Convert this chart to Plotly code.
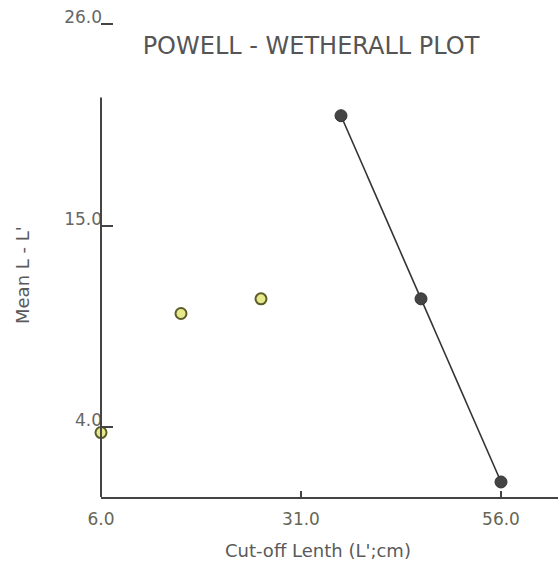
import plotly.graph_objects as go

# Data
cutoff_len = [6, 16, 26, 36, 46, 56]
mean_diff = [3.7, 10.2, 11.0, 21.0, 11.0, 1.0]
# points used in regression (dark) vs. excluded (yellow)
excl_x = cutoff_len[:3]
excl_y = mean_diff[:3]
incl_x = cutoff_len[3:]
incl_y = mean_diff[3:]

x_ticks = [6, 31, 56]
x_ticklabels = ["6.0", "31.0", "56.0"]
y_ticks = [4, 15, 26]
y_ticklabels = ["4.0", "15.0", "26.0"]

FONT = "DejaVu Sans, Arial, sans-serif"
GRAY = "#5a5a5a"

fig = go.Figure()

fig.add_trace(go.Scatter(
    x=incl_x, y=incl_y, mode="lines+markers",
    line=dict(color="#333333", width=1.6),
    marker=dict(size=12, color="#444444", line=dict(color="#333333", width=1)),
    cliponaxis=False, showlegend=False,
))
fig.add_trace(go.Scatter(
    x=excl_x, y=excl_y, mode="markers",
    marker=dict(size=11, color="#e6e88a", line=dict(color="#5c5c2a", width=2)),
    cliponaxis=False, showlegend=False,
))

# y-axis line (shorter than the full axis range)
fig.add_shape(type="line", xref="paper", yref="y", x0=0, x1=0, y0=0.18, y1=22,
              line=dict(color="#444444", width=2))

fig.update_layout(
    width=558, height=567,
    margin=dict(l=101, r=0, t=15, b=70),
    paper_bgcolor="white", plot_bgcolor="white",
    font=dict(family=FONT, color=GRAY, size=17),
    title=dict(text="POWELL - WETHERALL PLOT", x=311/558, xref="container", xanchor="center",
               y=1-45.5/567, yref="container", yanchor="middle",
               font=dict(size=24, color="#555555", family=FONT)),
    xaxis=dict(range=[6, 63.125], showgrid=False, zeroline=False,
               showline=True, linecolor="#444444", linewidth=2,
               tickmode="array", tickvals=x_ticks, ticktext=x_ticklabels,
               ticks="inside", ticklen=6, tickcolor="#444444", tickwidth=1.5,
               ticklabelstandoff=6, tickfont=dict(size=17, color="#666655")),
    yaxis=dict(range=[0.18, 26.5], showgrid=False, zeroline=False, showline=False,
               tickmode="array", tickvals=y_ticks, ticktext=y_ticklabels,
               ticks="inside", ticklen=12, tickcolor="#444444", tickwidth=1.5,
               ticklabelshift=-7, ticklabelstandoff=-2, tickfont=dict(size=17, color="#666666")),
    annotations=[
        dict(text="Cut-off Lenth (L';cm)", xref="paper", yref="paper",
             x=(318-101)/457, y=-(550-497)/482, xanchor="center", yanchor="middle",
             showarrow=False, font=dict(size=18, color=GRAY)),
        dict(text="Mean L - L'", xref="paper", yref="paper",
             x=-(101-22)/457, y=(497-275)/482, xanchor="center", yanchor="middle",
             textangle=-90, showarrow=False, font=dict(size=18, color=GRAY)),
    ],
)

fig.write_html("out.html")
